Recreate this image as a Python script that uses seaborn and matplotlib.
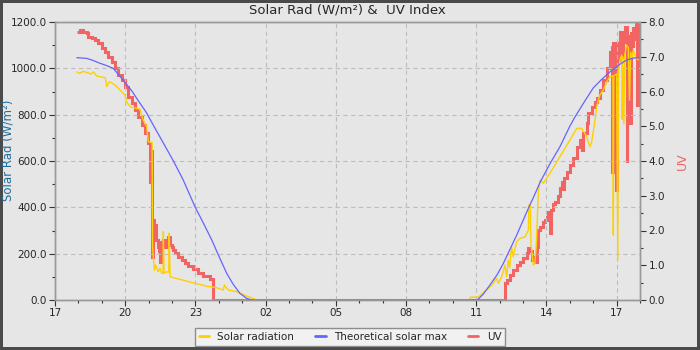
import pandas as pd
import matplotlib
matplotlib.use("Agg")
import matplotlib.pyplot as plt
import matplotlib.dates as mdates
from matplotlib.lines import Line2D
from matplotlib.ticker import MultipleLocator, FormatStrFormatter
import seaborn as sns

# all times are hours after 17:00 on the first day
start = pd.Timestamp("2024-03-10 17:00")

# theoretical solar max (W/m²)
max_hours = [0.93, 1.35, 1.6, 1.92, 2.2, 2.49, 2.99, 3.3, 3.56, 3.9, 4.2, 4.45, 4.7, 5.06,
             5.48, 5.98, 6.35, 6.7, 7.0, 7.34, 7.6, 7.9, 8.19, 8.4, 18.05, 18.3, 18.59,
             18.9, 19.16, 19.45, 19.73, 20.23, 20.5, 20.73, 21.15, 21.58, 22.0, 22.22,
             22.65, 23.0, 23.36, 23.72, 24.1, 24.43, 24.7, 24.93]
max_values = [1046, 1043, 1035, 1022, 1012, 1000, 940, 900, 860, 810, 755, 710, 665, 600,
              518, 403, 330, 259, 190, 115, 70, 29, 7, 0, 0, 25, 65,
              110, 158, 220, 280, 396, 455, 508, 588, 662, 750, 790,
              860, 915, 952, 985, 1015, 1036, 1044, 1046]

# measured solar radiation (W/m²)
rad_hours = [0.93, 1.05, 1.2, 1.42, 1.55, 1.64, 1.78, 2.06, 2.15, 2.21, 2.3, 2.35, 2.56,
             2.7, 2.78, 2.99, 3.06, 3.21, 3.49, 3.63, 3.77, 3.92, 3.99, 4.15, 4.17,
             4.2, 4.25, 4.3, 4.41, 4.49, 4.56, 4.62, 4.63, 4.66, 4.77, 4.86, 4.88,
             4.92, 5.34, 5.98, 6.48, 6.91, 7.19, 7.24, 7.3, 7.41, 7.76, 8.19, 8.47,
             8.6, 17.7, 17.74, 18.09, 18.3, 18.59, 18.73, 18.87, 18.95, 19.09, 19.23,
             19.3, 19.37, 19.43, 19.51, 19.58, 19.73, 19.87, 20.09, 20.23, 20.25,
             20.31, 20.34, 20.44, 20.51, 20.58, 20.65, 20.73, 20.87, 21.15, 21.58,
             22.01, 22.3, 22.51, 22.72, 22.86, 22.93, 23.08, 23.15, 23.22, 23.29,
             23.43, 23.58, 23.72, 23.84, 23.86, 23.88, 24.0, 24.05, 24.08, 24.15,
             24.22, 24.24, 24.27, 24.31, 24.35, 24.43, 24.5, 24.55, 24.6, 24.66,
             24.71, 24.8, 24.93]
rad_values = [985, 978, 987, 980, 975, 985, 967, 961, 958, 921, 940, 942, 928,
              915, 906, 885, 856, 834, 827, 823, 777, 748, 683, 679, 230,
              187, 129, 151, 122, 137, 115, 115, 295, 115, 122, 120, 288,
              100, 89, 72, 60, 53, 43, 65, 55, 43, 36, 17, 7,
              0, 0, 12, 12, 32, 57, 72, 94, 72, 100, 151,
              100, 173, 140, 230, 187, 252, 266, 273, 302, 410,
              410, 245, 151, 158, 259, 460, 518, 504, 547, 619,
              691, 741, 741, 705, 662, 680, 777, 834, 863, 885,
              906, 942, 964, 968, 280, 968, 975, 173, 985, 1040,
              1057, 780, 1050, 760, 1060, 1100, 1090, 863, 1070, 1045,
              1079, 1050, 1036]

# UV index
uv_hours = [0.93, 1.07, 1.2, 1.35, 1.42, 1.57, 1.71, 1.85, 2.0, 2.14, 2.28, 2.42, 2.56,
            2.71, 2.85, 2.99, 3.13, 3.28, 3.42, 3.56, 3.71, 3.85, 3.99, 4.04, 4.06,
            4.09, 4.13, 4.16, 4.19, 4.25, 4.32, 4.39, 4.46, 4.5, 4.53, 4.63, 4.7,
            4.77, 4.84, 4.92, 4.99, 5.05, 5.13, 5.27, 5.41, 5.56, 5.7, 5.91, 6.12,
            6.34, 6.62, 6.77, 19.23, 19.3, 19.44, 19.59, 19.73, 19.87, 20.01, 20.16,
            20.23, 20.3, 20.37, 20.44, 20.51, 20.59, 20.65, 20.73, 20.87, 20.94,
            21.01, 21.08, 21.15, 21.18, 21.3, 21.37, 21.51, 21.58, 21.65, 21.71,
            21.76, 21.87, 22.01, 22.15, 22.29, 22.44, 22.51, 22.55, 22.58, 22.72,
            22.79, 22.94, 23.08, 23.15, 23.29, 23.43, 23.58, 23.72, 23.8, 23.82,
            23.84, 23.9, 23.97, 24.0, 24.08, 24.15, 24.22, 24.29, 24.36, 24.43,
            24.46, 24.52, 24.57, 24.6, 24.66, 24.71, 24.77, 24.83, 24.88, 24.93]
uv_values = [7.72, 7.77, 7.72, 7.67, 7.58, 7.53, 7.48, 7.39, 7.24, 7.15, 7.0, 6.86, 6.67,
             6.47, 6.33, 6.14, 5.85, 5.66, 5.47, 5.27, 5.04, 4.8, 4.51, 4.37, 3.4,
             4.3, 4.17, 1.25, 2.3, 2.17, 1.73, 1.53, 1.4, 1.1, 1.68, 1.73, 1.53,
             1.68, 1.82, 1.58, 1.53, 1.44, 1.34, 1.23, 1.15, 1.07, 0.98, 0.88, 0.79,
             0.69, 0.6, 0.0, 0.48, 0.58, 0.72, 0.86, 1.0, 1.1, 1.2, 1.34,
             1.49, 1.4, 1.15, 1.25, 1.1, 1.53, 2.01, 2.1, 2.25, 2.3,
             2.4, 2.54, 1.92, 2.59, 2.75, 2.83, 3.0, 3.21, 3.4, 3.2,
             3.5, 3.69, 3.88, 4.08, 4.41, 4.6, 4.32, 4.7, 4.8, 5.08,
             5.37, 5.56, 5.7, 5.8, 6.04, 6.33, 6.67, 7.15, 7.3, 3.69,
             7.39, 7.1, 3.17, 7.4, 6.9, 7.72, 7.0, 7.43, 7.86, 3.98,
             7.6, 7.2, 5.09, 7.67, 7.3, 7.82, 7.5, 8.0, 5.6, 7.96]


def to_frame(hours, values, name):
    return pd.DataFrame({"time": start + pd.to_timedelta(hours, unit="h"), name: values})


max_df = to_frame(max_hours, max_values, "max")
rad_df = to_frame(rad_hours, rad_values, "rad")
uv_df = to_frame(uv_hours, uv_values, "uv")

c_rad = "#ffd000"
c_max = "#6464ff"
c_uv = "#f26464"
bg = "#e6e6e6"

sns.set_theme(style="ticks")
plt.rcParams["font.family"] = ["DejaVu Sans"]

fig = plt.figure(figsize=(7, 3.5), dpi=100, facecolor=bg, edgecolor="#4a4a4a", linewidth=3)
ax = fig.add_axes([55 / 700, 50 / 350, 585 / 700, 278 / 350])
ax2 = ax.twinx()

# UV goes underneath the radiation lines
ax.set_zorder(ax2.get_zorder() + 1)
ax.patch.set_visible(False)
ax2.set_facecolor(bg)

sns.lineplot(data=uv_df, x="time", y="uv", ax=ax2, color=c_uv, lw=2.2,
             drawstyle="steps-post", solid_capstyle="butt", solid_joinstyle="miter",
             estimator=None, legend=False)
sns.lineplot(data=rad_df, x="time", y="rad", ax=ax, color=c_rad, lw=1.0,
             estimator=None, legend=False)
sns.lineplot(data=max_df, x="time", y="max", ax=ax, color=c_max, lw=0.9,
             estimator=None, legend=False)

ax.set_xlim(start, start + pd.Timedelta(hours=25))
ax.set_ylim(0, 1200)
ax2.set_ylim(0, 8)

ax.xaxis.set_major_locator(mdates.HourLocator(byhour=range(2, 24, 3)))
ax.xaxis.set_minor_locator(mdates.HourLocator())
ax.xaxis.set_major_formatter(mdates.DateFormatter("%H"))
ax.yaxis.set_major_locator(MultipleLocator(200))
ax.yaxis.set_minor_locator(MultipleLocator(100))
ax.yaxis.set_major_formatter(FormatStrFormatter("%.1f"))
ax2.yaxis.set_major_locator(MultipleLocator(1))
ax2.yaxis.set_minor_locator(MultipleLocator(0.5))
ax2.yaxis.set_major_formatter(FormatStrFormatter("%.1f"))

for a in (ax, ax2):
    a.tick_params(which="major", length=4, width=0.8, color="#333333", labelsize=7.5, pad=2)
    a.tick_params(which="minor", length=2.5, width=0.8, color="#333333")
    for s in a.spines.values():
        s.set_color("#999999")
        s.set_linewidth(1)

ax.grid(True, which="major", linestyle=(0, (4, 3)), color="#bdbdbd", lw=0.8)
ax2.grid(False)

ax.set_xlabel("")
ax.set_ylabel("Solar Rad (W/m²)", fontsize=8.5, color="#1f6e9e")
ax.yaxis.set_label_coords(-0.07, 0.54)
ax2.set_ylabel("UV", fontsize=9, color=c_uv, labelpad=8)
ax.set_title("Solar Rad (W/m²) &  UV Index", fontsize=9.5, pad=6)

handles = [Line2D([], [], color=c_rad, lw=2),
           Line2D([], [], color=c_max, lw=2),
           Line2D([], [], color=c_uv, lw=2)]
fig.legend(handles, ["Solar radiation", "Theoretical solar max", "UV"],
           loc="center", bbox_to_anchor=(0.5, 0.037), ncol=3, fontsize=7.5,
           frameon=True, fancybox=False, facecolor="#f4f4f4", edgecolor="#777777",
           handlelength=1.0, columnspacing=2.0, borderpad=0.4)

fig.savefig("out.png", dpi=100, facecolor=bg, edgecolor=fig.get_edgecolor())
